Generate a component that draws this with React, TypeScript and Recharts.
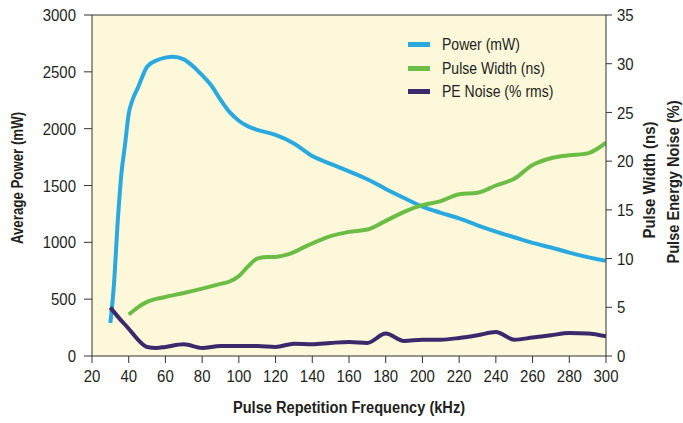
import { CartesianGrid, Line, LineChart, ReferenceLine, XAxis, YAxis } from "recharts";

const FONT = "'Liberation Sans', Arial, Helvetica, sans-serif";
const INK = "#231f20";

const POWER_COLOR = "#2aa9e0";
const WIDTH_COLOR = "#6cbd45";
const NOISE_COLOR = "#3a2a6c";

const xTicks = [20, 40, 60, 80, 100, 120, 140, 160, 180, 200, 220, 240, 260, 280, 300];
const leftTicks = [0, 500, 1000, 1500, 2000, 2500, 3000];
const rightTicks = [0, 5, 10, 15, 20, 25, 30, 35];

// Average power (mW) vs PRF (kHz)
const powerFreq = [30, 32, 34, 36, 38, 40, 42, 45, 50, 55, 60, 64, 70, 75, 80, 85, 90, 95, 100, 105, 110, 120, 130, 140, 150, 160, 170, 180, 190, 200, 210, 220, 230, 240, 250, 260, 270, 280, 290, 300];
const powerMw = [290, 640, 1180, 1600, 1860, 2130, 2250, 2360, 2545, 2600, 2625, 2633, 2610, 2550, 2470, 2380, 2255, 2145, 2070, 2020, 1990, 1945, 1870, 1760, 1690, 1625, 1555, 1470, 1390, 1315, 1260, 1210, 1150, 1095, 1045, 995, 955, 910, 870, 837];

// Pulse width (ns)
const widthFreq = [40, 45, 50, 60, 70, 80, 90, 95, 100, 105, 110, 115, 120, 128, 137, 150, 160, 170, 180, 190, 200, 210, 220, 230, 240, 250, 260, 270, 280, 290, 300];
const widthNs = [4.25, 5.0, 5.55, 6.06, 6.47, 6.92, 7.4, 7.65, 8.2, 9.2, 10.0, 10.15, 10.17, 10.5, 11.3, 12.3, 12.74, 12.98, 13.87, 14.8, 15.48, 15.9, 16.6, 16.75, 17.5, 18.2, 19.6, 20.3, 20.6, 20.8, 21.9];

// Pulse energy noise (% rms)
const noiseFreq = [30, 35, 40, 45, 50, 55, 60, 70, 80, 90, 100, 110, 120, 130, 140, 150, 160, 170, 180, 190, 200, 210, 220, 230, 240, 250, 260, 270, 280, 290, 300];
const noisePct = [4.97, 3.84, 2.8, 1.68, 0.93, 0.82, 0.93, 1.2, 0.82, 1.03, 1.03, 1.03, 0.93, 1.27, 1.2, 1.34, 1.44, 1.34, 2.3, 1.54, 1.68, 1.68, 1.85, 2.13, 2.47, 1.68, 1.89, 2.13, 2.36, 2.3, 2.02];

const toPoints = (freq: number[], vals: number[]) => freq.map((f, i) => ({ f, v: vals[i] }));

const powerData = toPoints(powerFreq, powerMw);
const widthData = toPoints(widthFreq, widthNs);
const noiseData = toPoints(noiseFreq, noisePct);

const legendItems = [
  { label: "Power (mW)", color: POWER_COLOR },
  { label: "Pulse Width (ns)", color: WIDTH_COLOR },
  { label: "PE Noise (% rms)", color: NOISE_COLOR },
];

// condensed-looking tick text
function Tick(props: any) {
  const { x, y, payload, textAnchor, axis } = props;
  const dy = axis === "x" ? "0.71em" : "0.36em";
  return (
    <g transform={`translate(${x},${y})`}>
      <text transform="scale(0.88,1)" textAnchor={textAnchor} dy={dy} fontSize={17} fontFamily={FONT} fill={INK}>
        {payload.value}
      </text>
    </g>
  );
}

function Title({ x, y, text, rotate, size, sx }: { x: number; y: number; text: string; rotate?: boolean; size: number; sx: number }) {
  return (
    <g transform={`translate(${x},${y})${rotate ? " rotate(-90)" : ""}`}>
      <text transform={`scale(${sx},1)`} textAnchor="middle" dy="0.36em" fontSize={size} fontWeight="bold" fontFamily={FONT} fill={INK}>
        {text}
      </text>
    </g>
  );
}

function LegendBox() {
  return (
    <div style={{ position: "absolute", left: 408, top: 33, fontFamily: FONT, color: INK }}>
      {legendItems.map((it) => (
        <div key={it.label} style={{ display: "flex", alignItems: "center", height: 23.5 }}>
          <span style={{ width: 22, height: 5, background: it.color, display: "inline-block" }} />
          <span style={{ marginLeft: 12, fontSize: 16.5, display: "inline-block", transform: "scaleX(0.85)", transformOrigin: "left center", whiteSpace: "nowrap" }}>
            {it.label}
          </span>
        </div>
      ))}
    </div>
  );
}

export default function App() {
  return (
    <div style={{ position: "absolute", left: 0, top: 0, width: 683, height: 423, background: "#fff" }}>
      <LineChart width={683} height={423} margin={{ top: 15, right: 0, bottom: 0, left: 0 }}>
        <CartesianGrid yAxisId="left" horizontal={false} vertical={false} fill="#fdf8da" />
        <XAxis
          dataKey="f"
          type="number"
          domain={[20, 300]}
          ticks={xTicks}
          height={67}
          allowDataOverflow
          stroke="#333"
          tickSize={7}
          tickMargin={7}
          tick={<Tick axis="x" />}
          label={{ content: () => <Title x={349} y={407} text="Pulse Repetition Frequency (kHz)" size={17} sx={0.86} /> }}
        />
        <YAxis
          yAxisId="left"
          domain={[0, 3000]}
          ticks={leftTicks}
          width={92}
          stroke="#333"
          tickSize={8}
          tickMargin={8}
          tick={<Tick axis="y" />}
          label={{ content: () => <Title x={17.5} y={178} text="Average Power (mW)" size={16} sx={0.83} rotate /> }}
        />
        <YAxis
          yAxisId="right"
          orientation="right"
          domain={[0, 35]}
          ticks={rightTicks}
          width={77}
          stroke="#333"
          tickSize={6}
          tickMargin={5}
          tick={<Tick axis="y" />}
          label={{
            content: () => (
              <g>
                <Title x={649} y={180} text="Pulse Width (ns)" size={17} sx={0.88} rotate />
                <Title x={673} y={182} text="Pulse Energy Noise (%)" size={17} sx={0.86} rotate />
              </g>
            ),
          }}
        />
        <ReferenceLine yAxisId="left" y={3000} stroke="#333" />
        <Line yAxisId="left" data={powerData} dataKey="v" name="Power (mW)" type="monotone" stroke={POWER_COLOR} strokeWidth={4} dot={false} isAnimationActive={false} />
        <Line yAxisId="right" data={widthData} dataKey="v" name="Pulse Width (ns)" type="monotone" stroke={WIDTH_COLOR} strokeWidth={4} dot={false} isAnimationActive={false} />
        <Line yAxisId="right" data={noiseData} dataKey="v" name="PE Noise (% rms)" type="monotone" stroke={NOISE_COLOR} strokeWidth={4} dot={false} isAnimationActive={false} />
      </LineChart>
      <LegendBox />
    </div>
  );
}
